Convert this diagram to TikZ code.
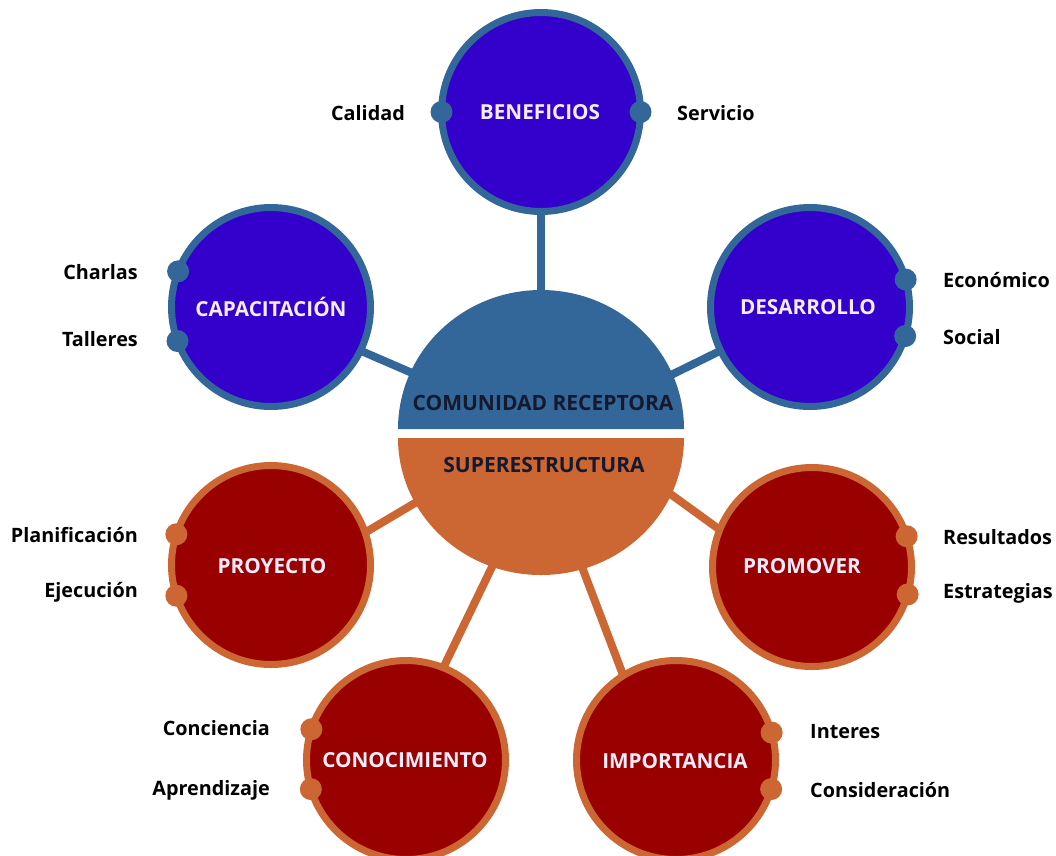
\documentclass[tikz,border=0pt]{standalone}
\usepackage{fontspec}
\setmainfont{Open Sans}
\usetikzlibrary{backgrounds}
\definecolor{ringblue}{RGB}{52,103,153}
\definecolor{fillblue}{RGB}{51,0,204}
\definecolor{ringor}{RGB}{204,102,51}
\definecolor{fillred}{RGB}{153,0,0}
\definecolor{sattxt}{RGB}{244,236,250}
\definecolor{hubtxt}{RGB}{20,25,45}
\tikzset{
  sat/.style={circle, minimum size=199pt, inner sep=0pt, outer sep=0pt, line width=7pt},
  bsat/.style={sat, draw=ringblue, fill=fillblue},
  rsat/.style={sat, draw=ringor, fill=fillred},
  bdot/.style={circle, fill=ringblue, minimum size=22pt, inner sep=0pt},
  rdot/.style={circle, fill=ringor, minimum size=22pt, inner sep=0pt},
  sattitle/.style={font=\fontsize{20.7}{24}\selectfont\bfseries, text=sattxt, inner sep=0pt},
  hubtitle/.style={font=\fontsize{21}{24}\selectfont\bfseries, text=hubtxt, inner sep=0pt},
  lside/.style={font=\fontsize{19.8}{23}\selectfont\bfseries, text=black, anchor=east, inner sep=0pt},
  rside/.style={font=\fontsize{19.8}{23}\selectfont\bfseries, text=black, anchor=west, inner sep=0pt},
  bconn/.style={draw=ringblue, line width=8pt},
  rconn/.style={draw=ringor, line width=8pt},
}
\begin{document}
\begin{tikzpicture}[x=1pt,y=1pt]
\useasboundingbox (0,0) rectangle (1056,-855);
% hub
\node[circle, minimum size=280pt, inner sep=0pt, outer sep=0pt] (hub) at (541,-433) {};
\fill[ringblue] (398,-429) arc[start angle=180, end angle=0, x radius=143, y radius=139] -- cycle;
\fill[ringor] (398,-438) arc[start angle=180, end angle=360, x radius=143, y radius=137] -- cycle;
\node[hubtitle] (comu) at (543,-403) {COMUNIDAD RECEPTORA};
\node[hubtitle] (supe) at (544,-465) {SUPERESTRUCTURA};
% satellites
\node[bsat] (ben) at (541,-112) {};
\node[bsat] (cap) at (271,-307) {};
\node[bsat] (des) at (810,-307) {};
\node[rsat] (pro) at (271,-565) {};
\node[rsat] (prom) at (812,-567) {};
\node[rsat] (con) at (406,-760) {};
\node[rsat] (imp) at (676,-760) {};
% connectors
\begin{scope}[on background layer]
\draw[bconn] (ben.south) -- (hub.north);
\draw[bconn] (cap.-26) -- (hub.155);
\draw[bconn] (des.206) -- (hub.24);
\draw[rconn] (pro.19.5) -- (hub.209);
\draw[rconn] (prom.158.5) -- (hub.-25);
\draw[rconn] (con.68) -- (hub.250);
\draw[rconn] (imp.122) -- (hub.-73);
\end{scope}
% dots
\node[bdot] (ben1) at (ben.west) {};
\node[bdot] (ben2) at (ben.east) {};
\node[bdot] (cap1) at (cap.159) {};
\node[bdot] (cap2) at (cap.200) {};
\node[bdot] (des1) at (des.16) {};
\node[bdot] (des2) at (des.-17) {};
\node[rdot] (pro1) at (pro.162) {};
\node[rdot] (pro2) at (pro.198) {};
\node[rdot] (prom1) at (prom.18) {};
\node[rdot] (prom2) at (prom.-16) {};
\node[rdot] (con1) at (con.162) {};
\node[rdot] (con2) at (con.197) {};
\node[rdot] (imp1) at (imp.16) {};
\node[rdot] (imp2) at (imp.-17) {};
% titles
\node[sattitle] (tben) at (540,-112) {BENEFICIOS};
\node[sattitle] (tcap) at (271,-307) {CAPACITACIÓN};
\node[sattitle] (tdes) at (808,-307) {DESARROLLO};
\node[sattitle] (tpro) at (272,-566) {PROYECTO};
\node[sattitle] (tprom) at (802,-566) {PROMOVER};
\node[sattitle] (tcon) at (405,-760) {CONOCIMIENTO};
\node[sattitle] (timp) at (675,-761) {IMPORTANCIA};
% side labels
\node[lside] (lcal) at (405,-113) {Calidad};
\node[rside] (lser) at (677,-113) {Servicio};
\node[lside] (lcha) at (138,-272) {Charlas};
\node[lside] (ltal) at (138,-339) {Talleres};
\node[rside] (leco) at (943,-280) {Económico};
\node[rside] (lsoc) at (943,-337) {Social};
\node[lside] (lpla) at (138,-535) {Planificación};
\node[lside] (leje) at (138,-592) {Ejecución};
\node[rside] (lres) at (943,-537) {Resultados};
\node[rside] (lest) at (943,-593) {Estrategias};
\node[lside] (lcnc) at (270,-728) {Conciencia};
\node[lside] (lapr) at (270,-790) {Aprendizaje};
\node[rside] (lint) at (810,-732) {Interes};
\node[rside] (lcns) at (810,-790) {Consideración};
\end{tikzpicture}
\end{document}
